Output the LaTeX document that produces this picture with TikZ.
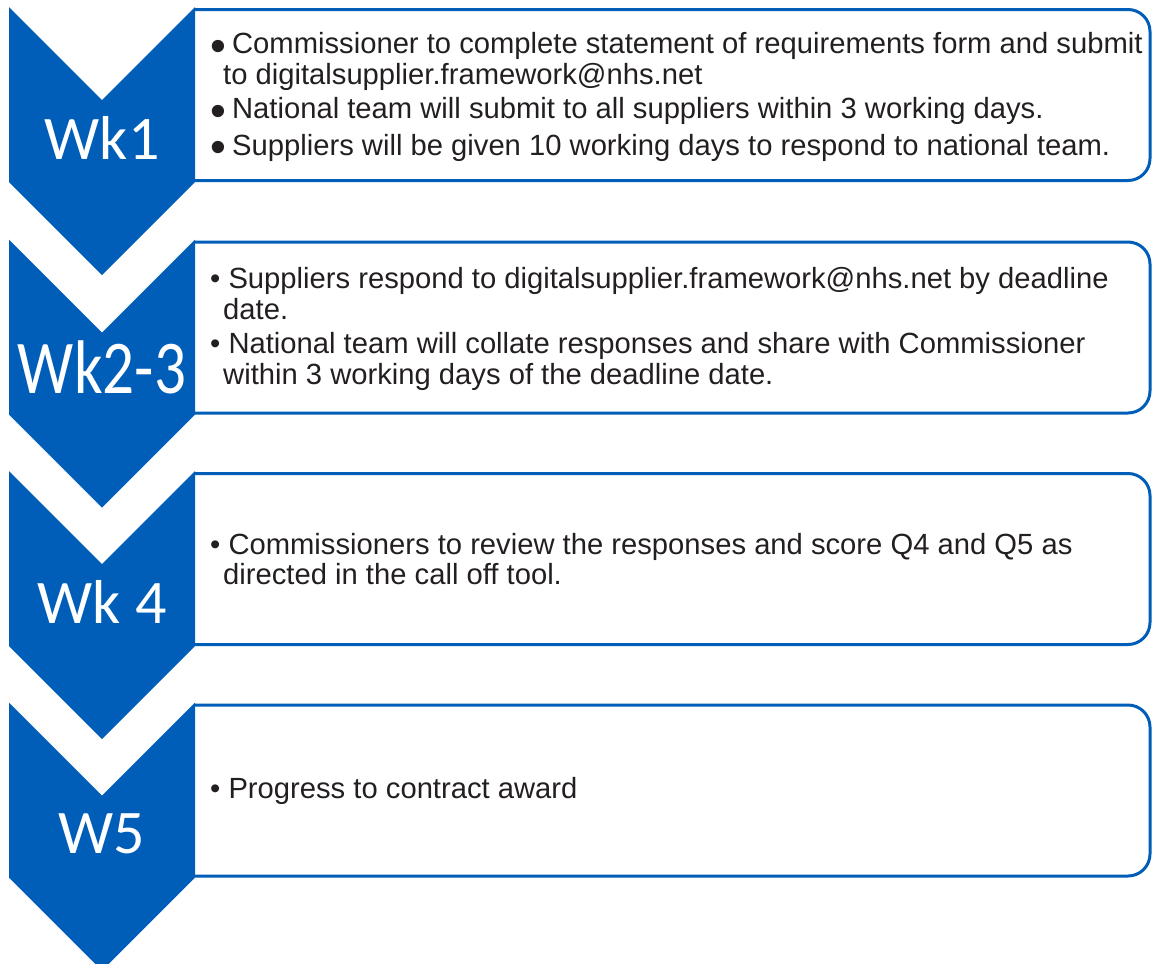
\documentclass[tikz,border=0pt]{standalone}
\usepackage{fontspec}
\usepackage{xcolor}
\usepackage{graphicx}
\setmainfont{Liberation Sans}
\newfontfamily\weekfont{Carlito}
\definecolor{nhsblue}{RGB}{0,94,184}
\definecolor{inkgray}{RGB}{35,31,32}
\newcommand{\bigbullet}{\smash{\raisebox{-7.5pt}{\scalebox{1.55}{\textbullet}}}\hspace{-2pt}}

\begin{document}
\begin{tikzpicture}[
  x=1pt, y=-1pt,
  weekchevron/.pic={\fill[nhsblue] (9,0) -- (102,93) -- (195,0) -- (195,175)
    -- (102,268) -- (9,175) -- cycle;},
  stepbox/.style={draw=nhsblue, line width=3pt, rounded corners=22pt},
  weeklabel/.style={text=white, inner sep=0pt,
    font=\weekfont\fontsize{62}{62}\selectfont},
  steptext/.style={anchor=west, align=left, inner sep=0pt, text=inkgray,
    font=\fontsize{29.2}{30.5}\selectfont}
]
  \useasboundingbox (0,0) rectangle (1152,964);
  \clip (0,0) rectangle (1152,964);

  % Boxes on the right.
  \draw[stepbox] (195,9.5) -- (1150,9.5) -- (1150,180.5) -- (195,180.5);
  \draw[stepbox] (195,242) -- (1150,242) -- (1150,413) -- (195,413);
  \draw[stepbox] (195,473.5) -- (1150,473.5) -- (1150,644.5) -- (195,644.5);
  \draw[stepbox] (195,705) -- (1150,705) -- (1150,876) -- (195,876);

  % Week chevrons.
  \pic at (0,7) {weekchevron};
  \pic at (0,239.5) {weekchevron};
  \pic at (0,471) {weekchevron};
  \pic at (0,702.5) {weekchevron};

  \node[weeklabel] (wkone) at (102,138) {Wk1};
  \node[weeklabel] (wktwo) at (102,367)
    {\fontsize{76}{76}\selectfont\scalebox{0.83}[1]{Wk2-3}};
  \node[weeklabel] (wkfour) at (102,602) {Wk 4};
  \node[weeklabel] (wkfive) at (102,834) {W5};

  % Step texts.
  \node[steptext] (textone) at (210,97) {%
    \bigbullet\ Commissioner to complete statement of requirements form and submit\\
    \hspace*{13pt}to digitalsupplier.framework@nhs.net\\[4pt]
    \bigbullet\ National team will submit to all suppliers within 3 working days.\\[6pt]
    \bigbullet\ Suppliers will be given 10 working days to respond to national team.};
  \node[steptext] (texttwo) at (210,329) {%
    \textbullet\ Suppliers respond to digitalsupplier.framework@nhs.net by deadline\\
    \hspace*{13pt}date.\\[4pt]
    \textbullet\ National team will collate responses and share with Commissioner\\
    \hspace*{13pt}within 3 working days of the deadline date.};
  \node[steptext] (textthree) at (210,559) {%
    \textbullet\ Commissioners to review the responses and score Q4 and Q5 as\\
    \hspace*{13pt}directed in the call off tool.};
  \node[steptext] (textfive) at (210,791) {\textbullet\ Progress to contract award};
\end{tikzpicture}
\end{document}
